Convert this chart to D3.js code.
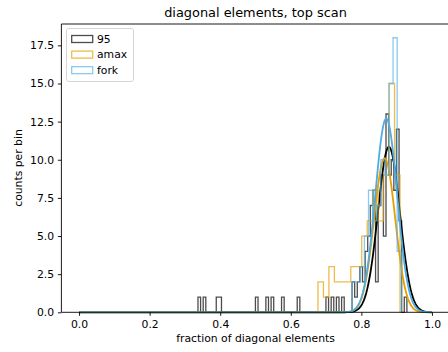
<!DOCTYPE html>
<html><head><meta charset="utf-8">
<script src="https://cdn.jsdelivr.net/npm/d3@7"></script>
<style>
html,body{margin:0;padding:0;background:#fff;}
svg{display:block;font-family:"DejaVu Sans",sans-serif;}
</style></head><body>
<svg id="chart" width="448" height="352"></svg>
<script>
// Run labels (legend order)
const labels = ["95", "amax", "fork"];

// Histogram of run "95": first bin edge, bin width, counts per bin
const binStart95 = 0.337;
const binWidth95 = 0.0074;
const counts95 = [
  1, 0, 1, 0, 0, 0, 0, 1, 1, 0,
  0, 0, 0, 0, 0, 0, 0, 0, 0, 0,
  0, 0, 1, 0, 0, 0, 1, 0, 1, 0,
  0, 0, 1, 0, 0, 0, 0, 0, 1, 0,
  0, 0, 0, 0, 0, 0, 0, 0, 0, 1,
  0, 1, 0, 1, 0, 1, 0, 0, 0, 2,
  1, 2, 3, 2, 4, 5, 7, 8, 2, 7,
  9, 5, 13, 9, 10, 8, 12, 6, 0, 1
];

// Histogram of run "amax"
const binStartAmax = 0.677;
const binWidthAmax = 0.0155;
const countsAmax = [2, 1, 3, 2, 2, 2, 3, 3, 5, 6, 8, 6, 9, 15, 9];

// Histogram of run "fork"
const binStartFork = 0.7738;
const binWidthFork = 0.0116;
const countsFork = [2, 2, 3, 5, 8, 6, 7, 10, 9, 15, 18, 4];

// Normal fits for 95, amax, fork: mean, sigma, peak height in counts per bin
const fitMean  = [0.878, 0.866, 0.8705];
const fitSigma = [0.031, 0.030, 0.031];
const fitPeak  = [10.85, 10.1, 12.7];
const fitRange = [0, 1];

// Axis ticks
const xTicks = [0, 0.2, 0.4, 0.6, 0.8, 1.0];
const yTicks = [0, 2.5, 5, 7.5, 10, 12.5, 15, 17.5];

const histColors  = ["#000000", "#E69F00", "#56B4E9"];
const curveColors = ["#000000", "#E69F00", "#4FACE3"];
const fontSize = "10.8px";

const svg = d3.select("#chart");
const x = d3.scaleLinear().domain([-0.05, 1.05]).range([61.4, 449.6]);
const y = d3.scaleLinear().domain([0, 18.9]).range([312.3, 24]);

const hists = [
  {start: binStart95, width: binWidth95, counts: counts95},
  {start: binStartAmax, width: binWidthAmax, counts: countsAmax},
  {start: binStartFork, width: binWidthFork, counts: countsFork}
];

// step outline of a histogram
function stepPoints(h) {
  const pts = [[h.start, 0]];
  h.counts.forEach((c, i) => {
    const a = h.start + i * h.width, b = a + h.width;
    pts.push([a, c], [b, c]);
  });
  pts.push([h.start + h.counts.length * h.width, 0]);
  return pts;
}

const line = d3.line().x(d => x(d[0])).y(d => y(d[1]));
const plot = svg.append("g");

const xs = d3.range(fitRange[0], fitRange[1] + 1e-9, 0.002);
hists.forEach((h, i) => {
  plot.append("path")
    .attr("d", line(stepPoints(h)))
    .attr("fill", "none")
    .attr("stroke", histColors[i])
    .attr("stroke-opacity", 0.7)
    .attr("stroke-width", 1.3)
    .attr("stroke-linejoin", "miter");
  const pts = xs.map(v => [v, fitPeak[i] * Math.exp(-0.5 * Math.pow((v - fitMean[i]) / fitSigma[i], 2))]);
  plot.append("path")
    .attr("d", line(pts))
    .attr("fill", "none")
    .attr("stroke", curveColors[i])
    .attr("stroke-width", 1.8);
});

// spines
const [x0, x1] = x.range();
const [yb, yt] = y.range();
svg.append("path")
  .attr("d", `M${x0},${yt}H${x1}M${x0},${yt}V${yb}H${x1}V${yt}`)
  .attr("fill", "none").attr("stroke", "#000").attr("stroke-width", 0.9);

// axes
const xAxis = svg.append("g").attr("transform", `translate(0,${yb})`)
  .call(d3.axisBottom(x).tickValues(xTicks).tickFormat(d3.format(".1f"))
    .tickSize(3.5).tickPadding(4.9).tickSizeOuter(0));
const yAxis = svg.append("g").attr("transform", `translate(${x0},0)`)
  .call(d3.axisLeft(y).tickValues(yTicks).tickFormat(d3.format(".1f"))
    .tickSize(3.5).tickPadding(3.8).tickSizeOuter(0));
[xAxis, yAxis].forEach(g => {
  g.select(".domain").remove();
  g.selectAll("line").attr("stroke", "#000").attr("stroke-width", 0.9);
  g.selectAll("text").attr("font-family", "DejaVu Sans").attr("font-size", fontSize).attr("fill", "#000");
});

// labels
svg.append("text").attr("x", 255.5).attr("y", 16.5).attr("text-anchor", "middle")
  .attr("font-size", "12.9px").text("diagonal elements, top scan");
svg.append("text").attr("x", 255.5).attr("y", 342).attr("text-anchor", "middle")
  .attr("font-size", fontSize).text("fraction of diagonal elements");
svg.append("text").attr("transform", "translate(21.8,168) rotate(-90)")
  .attr("text-anchor", "middle").attr("font-size", fontSize).text("counts per bin");

// legend
const lg = svg.append("g");
lg.append("rect").attr("x", 66.5).attr("y", 28.5).attr("width", 67).attr("height", 53)
  .attr("rx", 2.5).attr("fill", "#fff").attr("fill-opacity", 0.8)
  .attr("stroke", "#d0d0d0").attr("stroke-width", 0.9);
labels.forEach((lab, i) => {
  const cy = 39 + i * 15.6;
  lg.append("rect").attr("x", 71.7).attr("y", cy - 3.5).attr("width", 21).attr("height", 7)
    .attr("fill", "none").attr("stroke", histColors[i]).attr("stroke-opacity", 0.7).attr("stroke-width", 1.3);
  lg.append("text").attr("x", 97).attr("y", cy + 3.8).attr("font-size", fontSize).text(lab);
});
</script>
</body></html>
